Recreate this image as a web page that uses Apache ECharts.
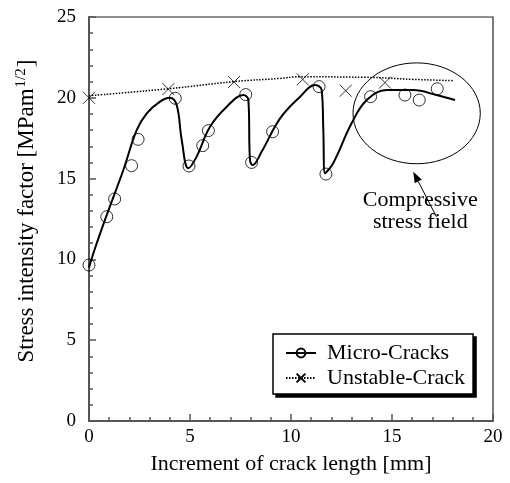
<!DOCTYPE html>
<html>
<head>
<meta charset="utf-8">
<script src="https://cdn.jsdelivr.net/npm/echarts@6/dist/echarts.min.js"></script>
<style>
  html, body { margin: 0; padding: 0; background: #fff; }
  #chart { width: 510px; height: 483px; }
</style>
</head>
<body>
<div id="chart"></div>
<script>
// measured points (circles)
const microX = [0, 0.88, 1.27, 2.11, 2.43, 4.27, 4.95, 5.63, 5.91, 7.76, 8.05, 9.09, 11.39, 11.73, 13.94, 15.64, 16.35, 17.24];
const microY = [9.65, 12.64, 13.74, 15.8, 17.43, 19.97, 15.78, 17.04, 17.97, 20.2, 16.0, 17.9, 20.69, 15.28, 20.07, 20.17, 19.86, 20.56];

// fitted solid curve through the micro-crack points
const curveX = [0, 0.3, 0.88, 1.7, 2.36, 2.86, 3.5, 4.0, 4.34, 4.59, 4.92, 5.33, 5.99, 6.82, 7.64, 7.89, 7.97, 8.1, 8.55, 9.46, 10.45, 11.19, 11.52, 11.6, 11.68, 12.09, 13.0, 13.75, 14.74, 16.06, 17.2, 18.12];
const curveY = [9.5, 10.69, 12.75, 15.53, 18.0, 19.04, 19.75, 20.0, 19.55, 17.39, 15.64, 16.36, 18.21, 19.45, 20.17, 19.86, 16.15, 15.84, 16.67, 18.73, 20.07, 20.79, 20.48, 18.0, 15.33, 15.95, 18.42, 19.86, 20.48, 20.48, 20.17, 19.86];

// unstable crack points (crosses)
const unstableX = [0, 3.93, 7.18, 10.58, 12.71, 14.65];
const unstableY = [20.0, 20.54, 20.98, 21.14, 20.44, 20.94];

// dotted trend line
const trendX = [0, 3.93, 7.18, 9.45, 10.4, 13.58, 16.06, 18.03];
const trendY = [20.13, 20.56, 21.0, 21.2, 21.3, 21.27, 21.14, 21.06];

const xTicks = [0, 5, 10, 15, 20];
const yTicks = [0, 5, 10, 15, 20, 25];

const zip = (xs, ys) => xs.map((x, i) => [x, ys[i]]);
const font = 'Liberation Serif';
const crossPath = 'path://M0,0L10,10M10,0L0,10';
const clear = 'rgba(0,0,0,0)';

const myChart = echarts.init(document.getElementById('chart'));

const option = {
  backgroundColor: '#fff',
  animation: false,
  grid: {
    left: 89, top: 17, width: 404, height: 404,
    show: true, borderColor: '#222', borderWidth: 1.2
  },
  legend: {
    orient: 'vertical',
    left: 273, top: 334,
    width: 180,
    padding: [8, 8, 5, 12],
    itemGap: 3,
    itemWidth: 30, itemHeight: 11,
    backgroundColor: '#fff',
    borderColor: '#000', borderWidth: 1.5,
    textStyle: { fontFamily: font, fontSize: 22, color: '#000', padding: [0, 0, 0, 6] },
    data: ['Micro-Cracks', 'Unstable-Crack'],
    z: 5
  },
  xAxis: {
    type: 'value', min: 0, max: 20, interval: 5,
    name: 'Increment of crack length [mm]',
    nameLocation: 'middle', nameGap: 32,
    nameTextStyle: { fontFamily: font, fontSize: 22, color: '#000' },
    axisLine: { lineStyle: { color: '#555', width: 2 } },
    axisTick: { inside: true, length: 7, lineStyle: { color: '#555', width: 1.5 } },
    minorTick: { show: true, splitNumber: 5, length: 4, lineStyle: { color: '#555', width: 1.5 } },
    splitLine: { show: false },
    axisLabel: {
      fontFamily: font, fontSize: 19, color: '#000', margin: 7,
      formatter: v => xTicks.includes(v) ? String(v) : ''
    }
  },
  yAxis: {
    type: 'value', min: 0, max: 25, interval: 5,
    name: '{n|Stress intensity factor [MPam}{s|1/2}{n|]}',
    nameLocation: 'middle', nameGap: 50, nameRotate: 90,
    nameTextStyle: {
      fontFamily: font, fontSize: 23, color: '#000', padding: [0, 0, 0, 16],
      rich: {
        n: { fontFamily: font, fontSize: 23, color: '#000' },
        s: { fontFamily: font, fontSize: 15, color: '#000', verticalAlign: 'top', padding: [0, 1, 10, 1] }
      }
    },
    axisLine: { lineStyle: { color: '#555', width: 2 } },
    axisTick: { inside: true, length: 7, lineStyle: { color: '#555', width: 1.5 } },
    minorTick: { show: true, splitNumber: 5, length: 4, lineStyle: { color: '#555', width: 1.5 } },
    splitLine: { show: false },
    axisLabel: {
      fontFamily: font, fontSize: 19, color: '#000', margin: 13,
      formatter: v => yTicks.includes(v) ? String(v) : ''
    }
  },
  series: [
    {
      name: 'Micro-Cracks', type: 'line', smooth: 0.4,
      data: zip(curveX, curveY),
      showSymbol: false, symbol: 'circle', symbolSize: 12,
      itemStyle: { color: clear, borderColor: '#000', borderWidth: 1 },
      lineStyle: { color: '#000', width: 2 },
      z: 3
    },
    {
      name: 'Unstable-Crack', type: 'line', smooth: true,
      data: zip(trendX, trendY),
      showSymbol: false, symbol: crossPath, symbolSize: 12,
      itemStyle: { color: clear, borderColor: '#000', borderWidth: 1 },
      lineStyle: { color: '#000', width: 1.5, type: [1.5, 1.5] },
      z: 2
    },
    {
      name: 'Micro-Cracks', type: 'scatter',
      data: zip(microX, microY),
      symbol: 'circle', symbolSize: 12,
      itemStyle: { color: clear, borderColor: '#000', borderWidth: 1 },
      z: 4
    },
    {
      name: 'Unstable-Crack', type: 'scatter',
      data: zip(unstableX, unstableY),
      symbol: crossPath, symbolSize: 12,
      itemStyle: { color: clear, borderColor: '#000', borderWidth: 1 },
      z: 4
    }
  ]
};

myChart.setOption(option);

// annotation: ellipse, arrow and caption placed in data coordinates
function addNotes() {
  const c = myChart.convertToPixel({ gridIndex: 0 }, [16.22, 19.04]);
  const r = myChart.convertToPixel({ gridIndex: 0 }, [16.22 + 3.15, 19.04 - 3.12]);
  const tail = myChart.convertToPixel({ gridIndex: 0 }, [17.2, 12.64]);
  const tip = myChart.convertToPixel({ gridIndex: 0 }, [16.05, 15.43]);
  const t1 = myChart.convertToPixel({ gridIndex: 0 }, [16.4, 13.67]);
  const t2 = myChart.convertToPixel({ gridIndex: 0 }, [16.4, 12.3]);
  const ang = Math.atan2(tip[1] - tail[1], tip[0] - tail[0]);
  const hl = 11, hw = 4;
  const bx = tip[0] - hl * Math.cos(ang), by = tip[1] - hl * Math.sin(ang);
  const px = -Math.sin(ang) * hw, py = Math.cos(ang) * hw;
  const lg = myChart.getModel().getComponent('legend');
  const lv = myChart.getViewOfComponentModel(lg);
  const box = lv.group.getBoundingRect();
  myChart.setOption({
    graphic: [
      {
        type: 'ellipse', silent: true,
        shape: { cx: c[0], cy: c[1], rx: r[0] - c[0], ry: r[1] - c[1] },
        style: { fill: 'none', stroke: '#000', lineWidth: 1 }
      },
      {
        type: 'line', silent: true,
        shape: { x1: tail[0], y1: tail[1], x2: bx, y2: by },
        style: { stroke: '#000', lineWidth: 1 }
      },
      {
        type: 'polygon', silent: true,
        shape: { points: [tip, [bx + px, by + py], [bx - px, by - py]] },
        style: { fill: '#000' }
      },
      {
        type: 'text', silent: true, x: t1[0], y: t1[1],
        style: { text: 'Compressive', font: '22px "Liberation Serif"', fill: '#000', align: 'center', verticalAlign: 'middle' }
      },
      {
        type: 'text', silent: true, x: t2[0], y: t2[1],
        style: { text: 'stress field', font: '22px "Liberation Serif"', fill: '#000', align: 'center', verticalAlign: 'middle' }
      },
      {
        // drop shadow of the legend box
        type: 'rect', silent: true, z: 1,
        shape: { x: lv.group.x + box.x + 3, y: lv.group.y + box.y + 3, width: box.width, height: box.height },
        style: { fill: '#000' }
      }
    ]
  });
}
addNotes();

window.addEventListener('resize', function () {
  myChart.resize();
});
</script>
</body>
</html>
